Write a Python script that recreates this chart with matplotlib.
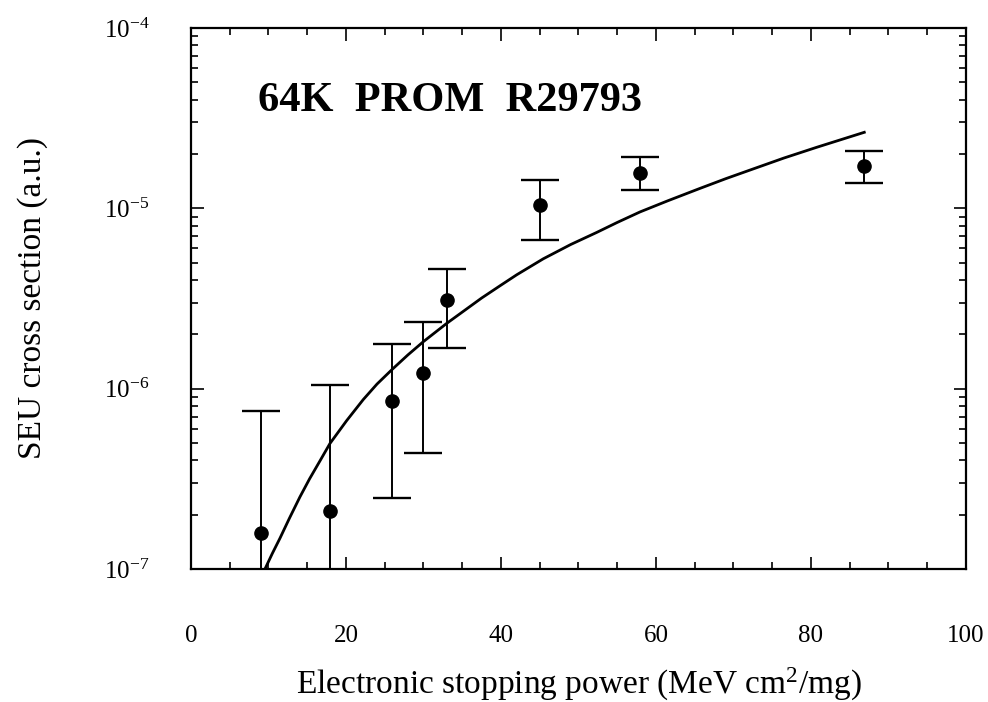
import matplotlib
matplotlib.use("Agg")
import matplotlib.pyplot as plt
import numpy as np
from matplotlib.ticker import LogLocator, MultipleLocator, FuncFormatter

plt.rcParams['font.family'] = ['Liberation Serif', 'DejaVu Serif']
plt.rcParams['mathtext.fontset'] = 'custom'
plt.rcParams['mathtext.rm'] = 'Liberation Serif'
plt.rcParams['mathtext.it'] = 'Liberation Serif:italic'
plt.rcParams['mathtext.bf'] = 'Liberation Serif:bold'

# measured points (LET, cross section, error bar ends)
let = [9.0, 17.9, 26.0, 30.0, 33.0, 45.1, 58.0, 86.8]
sigma = [1.59e-7, 2.09e-7, 8.57e-7, 1.22e-6, 3.10e-6, 1.05e-5, 1.57e-5, 1.72e-5]
sigma_hi = [7.48e-7, 1.05e-6, 1.76e-6, 2.35e-6, 4.60e-6, 1.44e-5, 1.92e-5, 2.08e-5]
sigma_lo = [5e-8, 5e-8, 2.47e-7, 4.42e-7, 1.68e-6, 6.65e-6, 1.26e-5, 1.38e-5]

# fitted curve
fit_x = [9.55, 10.5, 11.48, 12.7, 14.06, 15.3, 16.65, 17.94, 20.09, 22.23,
         24.0, 25.97, 28.0, 29.97, 32.99, 37.5, 40.0, 42.03, 45.46, 49.0,
         52.35, 55.0, 57.94, 61.5, 65.68, 69.0, 72.13, 76.5, 80.74, 86.88]
fit_y = [1.00e-7, 1.22e-7, 1.48e-7, 1.91e-7, 2.51e-7, 3.16e-7, 3.98e-7, 4.97e-7,
         6.65e-7, 8.70e-7, 1.06e-6, 1.28e-6, 1.54e-6, 1.82e-6, 2.30e-6, 3.18e-6,
         3.75e-6, 4.28e-6, 5.25e-6, 6.30e-6, 7.35e-6, 8.35e-6, 9.55e-6, 1.10e-5,
         1.29e-5, 1.46e-5, 1.63e-5, 1.90e-5, 2.18e-5, 2.64e-5]

fig = plt.figure(figsize=(9.88, 7.02), dpi=100)
ax = fig.add_axes([0.1933, 0.1895, 0.7844, 0.7706])

s = np.array(sigma)
yerr = [s - np.array(sigma_lo), np.array(sigma_hi) - s]
ax.errorbar(let, sigma, yerr=yerr, fmt='o', color='black', ms=9.5,
            elinewidth=1.4, capsize=14, capthick=1.7)
ax.plot(fit_x, fit_y, color='black', lw=2.0)

ax.set_yscale('log')
ax.set_xlim(0, 100)
ax.set_ylim(1e-7, 1e-4)

ax.xaxis.set_major_locator(MultipleLocator(20))
ax.xaxis.set_minor_locator(MultipleLocator(5))
ax.yaxis.set_major_locator(LogLocator(base=10))
ax.yaxis.set_minor_locator(LogLocator(base=10, subs=np.arange(2, 10)))
ax.yaxis.set_major_formatter(FuncFormatter(
    lambda v, p: r'10$^{\mathregular{-%d}}$' % abs(int(round(np.log10(v))))))

ax.tick_params(which='both', direction='in', top=True, right=True,
               width=1.2, colors='black')
ax.tick_params(which='major', length=9)
ax.tick_params(which='minor', length=5)
ax.tick_params(axis='x', which='major', pad=40, labelsize=18)
ax.tick_params(axis='y', which='major', pad=30, labelsize=18)
for sp in ax.spines.values():
    sp.set_linewidth(1.6)

ax.set_xlabel(r'Electronic stopping power (MeV cm$^2$/mg)', fontsize=24,
              labelpad=14)
ax.set_ylabel('SEU cross section (a.u.)', fontsize=24, labelpad=40)

ax.text(0.0865, 0.865, '64K  PROM  R29793', transform=ax.transAxes,
        fontsize=30.5, fontweight='bold', ha='left', va='center')

fig.savefig('out.png', dpi=100)
